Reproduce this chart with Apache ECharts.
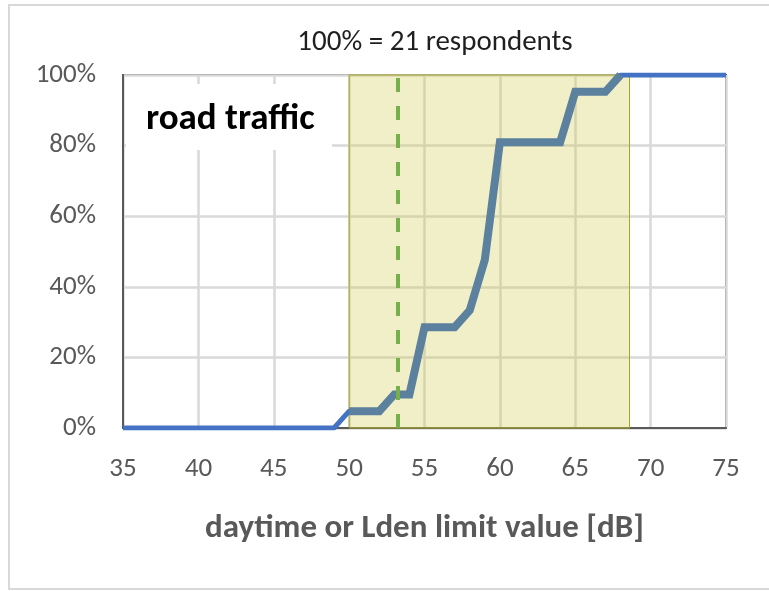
<!DOCTYPE html>
<html>
<head>
<meta charset="utf-8">
<script src="https://cdn.jsdelivr.net/npm/echarts@6/dist/echarts.min.js"></script>
<style>
  html, body { margin: 0; padding: 0; background: #fff; }
  #chart { width: 769px; height: 591px; }
</style>
</head>
<body>
<div id="chart"></div>
<script>
// limit values (dB) and cumulative share of respondents (%), 100% = 21
var limitValues = [35, 49, 50, 52, 53, 54, 55, 57, 58, 59, 60, 64, 65, 67, 68, 75];
var sharePct = [0, 0, 4.76, 4.76, 9.52, 9.52, 28.57, 28.57, 33.33, 47.62, 80.95, 80.95, 95.24, 95.24, 100, 100];
var rangeStart = 50, rangeEnd = 68.6;   // shaded band
var medianValue = 53.2;                 // dashed line
var yTicks = [0, 20, 40, 60, 80, 100];

var FONT = 'Carlito, Lato, sans-serif';

var allPoints = limitValues.map(function (x, i) { return [x, sharePct[i]]; });
// thick line only within the shaded range
var bandPoints = allPoints.filter(function (p) { return p[0] >= rangeStart && p[0] <= rangeEnd; });

var chart = echarts.init(document.getElementById('chart'), null, { renderer: 'canvas' });

var option = {
  animation: false,
  grid: {
    left: 123, right: 43, top: 75, bottom: 163,
    show: true, borderColor: '#595959', borderWidth: 2, backgroundColor: 'transparent'
  },
  xAxis: {
    type: 'value', min: 35, max: 75, interval: 5,
    name: 'daytime or Lden limit value [dB]',
    nameLocation: 'middle', nameGap: 84,
    nameTextStyle: { fontFamily: FONT, fontSize: 33, fontWeight: 'bold', color: '#595959' },
    axisLine: { show: true, lineStyle: { color: '#595959', width: 2 } },
    axisTick: { show: false },
    axisLabel: { margin: 28, fontFamily: FONT, fontSize: 27, color: '#595959' },
    splitLine: { show: true, lineStyle: { color: '#d9d9d9', width: 2.5 } }
  },
  yAxis: {
    type: 'value', min: 0, max: 100, interval: 20,
    axisLine: { show: true, lineStyle: { color: '#595959', width: 2 } },
    axisTick: { show: false },
    axisLabel: {
      margin: 27, fontFamily: FONT, fontSize: 27, color: '#595959',
      formatter: function (v) { return yTicks.indexOf(v) >= 0 ? v + '%' : ''; }
    },
    splitLine: { show: true, lineStyle: { color: '#d9d9d9', width: 2.5 } }
  },
  graphic: [
    {
      type: 'rect', z: 0, silent: true,
      shape: { x: 9, y: 5, width: 800, height: 584 },
      style: { fill: 'none', stroke: '#d9d9d9', lineWidth: 2 }
    },
    {
      type: 'text', z: 10, silent: true,
      x: 435, y: 43,
      style: {
        text: '100% = 21 respondents', fontFamily: FONT, fontSize: 29,
        fill: '#1f1f1f', align: 'center', verticalAlign: 'middle'
      }
    },
    {
      type: 'rect', z: 10, silent: true,
      shape: { x: 126, y: 84, width: 206, height: 66 },
      style: { fill: '#ffffff' }
    },
    {
      type: 'text', z: 11, silent: true,
      x: 146, y: 120,
      style: {
        text: 'road traffic', fontFamily: FONT, fontSize: 37, fontWeight: 'bold',
        fill: '#000000', align: 'left', verticalAlign: 'middle'
      }
    }
  ],
  series: [
    {
      type: 'line', z: 1, data: [], silent: true,
      markArea: {
        silent: true,
        itemStyle: { color: 'rgba(203,200,65,0.29)', borderColor: '#a5a52a', borderWidth: 1 },
        data: [[{ xAxis: rangeStart }, { xAxis: rangeEnd }]]
      },
      markLine: {
        silent: true, symbol: 'none', label: { show: false },
        lineStyle: { color: '#77b04a', width: 4, type: [14, 14] },
        data: [{ xAxis: medianValue }]
      }
    },
    {
      type: 'line', z: 3, data: allPoints, showSymbol: false,
      lineStyle: { color: '#4472c4', width: 5 }, silent: true
    },
    {
      type: 'line', z: 4, data: bandPoints, showSymbol: false,
      lineStyle: { color: '#5b819e', width: 8, join: 'miter' }, silent: true
    }
  ]
};

chart.setOption(option);
</script>
</body>
</html>
